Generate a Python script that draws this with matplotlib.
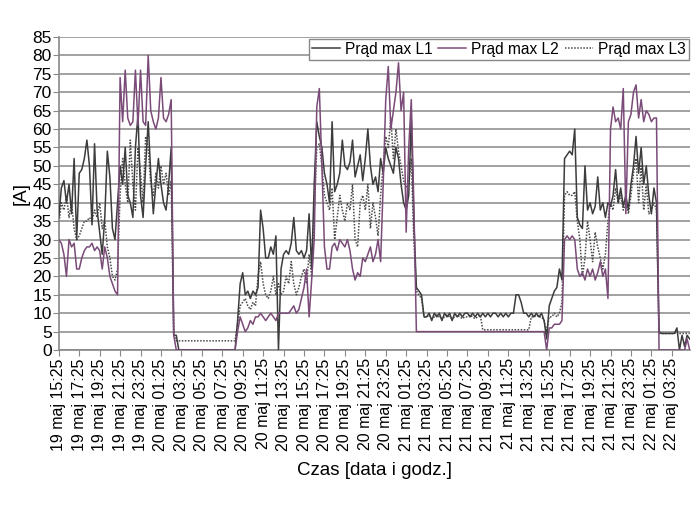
import numpy as np
import matplotlib
matplotlib.use("Agg")
import matplotlib.pyplot as plt

plt.rcParams['font.family'] = ['Liberation Sans', 'DejaVu Sans']

# max current per phase, read every 15 min from 19 maj 15:25
l1 = [
    36, 44, 46, 40, 45, 37, 52, 30,
    48, 49, 52, 57, 50, 34, 56, 38,
    32, 26, 36, 54, 47, 33, 30, 40,
    50, 45, 55, 42, 40, 36, 55, 64,
    42, 36, 50, 62, 48, 37, 45, 52,
    45, 40, 38, 45, 55, 4, 4, 0,
    0, 0, 0, 0, 0, 0, 0, 0,
    0, 0, 0, 0, 0, 0, 0, 0,
    0, 0, 0, 0, 0, 0, 8, 18,
    21, 15, 16, 14, 16, 15, 17, 38,
    33, 25, 25, 28, 26, 31, 0, 22,
    26, 27, 26, 29, 36, 27, 26, 27,
    25, 27, 37, 22, 45, 62, 58, 55,
    48, 45, 40, 62, 43, 45, 48, 57,
    50, 49, 51, 57, 47, 50, 53, 46,
    52, 60, 50, 45, 47, 43, 52, 48,
    55, 52, 50, 48, 55, 52, 45, 40,
    38, 42, 63, 35, 17, 16, 15, 9,
    9, 10, 8, 10, 9, 10, 8, 10,
    9, 10, 8, 10, 9, 10, 9, 10,
    10, 9, 10, 9, 10, 9, 10, 9,
    10, 9, 10, 10, 9, 10, 9, 10,
    9, 10, 10, 15, 15, 13, 10, 10,
    9, 10, 9, 10, 9, 10, 8, 3,
    12, 14, 16, 17, 22, 19, 52, 53,
    54, 53, 60, 36, 34, 33, 50, 38,
    40, 37, 39, 47, 38, 40, 36, 40,
    39, 42, 49, 40, 44, 39, 42, 38,
    45, 50, 58, 48, 55, 45, 50, 42,
    37, 44, 40, 5, 4.5, 4.5, 4.5, 4.5,
    4.5, 4.5, 6, 0, 4, 1, 4, 3,
]
l2 = [
    30, 29, 26, 20, 30, 28, 29, 22,
    22, 25, 27, 28, 28, 29, 27, 28,
    27, 22, 28, 25, 20, 18, 16, 15,
    74, 62, 76, 63, 61, 62, 76, 61,
    76, 62, 61, 80, 65, 62, 60, 63,
    74, 63, 62, 64, 68, 4, 0, 0,
    0, 0, 0, 0, 0, 0, 0, 0,
    0, 0, 0, 0, 0, 0, 0, 0,
    0, 0, 0, 0, 0, 0, 5, 9,
    7, 5, 6, 8, 7, 9, 9, 10,
    9, 8, 9, 10, 9, 8, 10, 10,
    10, 10, 10, 11, 12, 10, 11, 14,
    17, 22, 9, 19, 30, 66, 71, 50,
    28, 22, 22, 28, 29, 27, 30, 29,
    28, 30, 27, 22, 19, 21, 20, 25,
    24, 26, 28, 24, 26, 30, 24, 45,
    68, 77, 60, 65, 70, 78, 65, 70,
    32, 55, 68, 40, 5, 5, 5, 5,
    5, 5, 5, 5, 5, 5, 5, 5,
    5, 5, 5, 5, 5, 5, 5, 5,
    5, 5, 5, 5, 5, 5, 5, 5,
    5, 5, 5, 5, 5, 5, 5, 5,
    5, 5, 5, 5, 5, 5, 5, 5,
    5, 5, 5, 5, 5, 5, 5, 0,
    6, 6, 7, 7, 7, 8, 30, 31,
    30, 31, 30, 22, 20, 21, 19, 22,
    20, 22, 19, 21, 24, 20, 22, 14,
    60, 66, 62, 63, 60, 71, 37, 62,
    64, 70, 72, 63, 68, 62, 65, 64,
    62, 63, 63, 0, 0, 0, 0, 0,
    0, 0, 0, 0, 0, 0, 3, 0,
]
l3 = [
    34, 40, 38, 42, 36, 40, 33, 30,
    31, 33, 35, 35, 36, 35, 38, 36,
    40, 33, 35, 28, 25, 20, 19, 22,
    42, 52, 45, 40, 57, 45, 38, 55,
    48, 40, 58, 55, 45, 42, 48, 44,
    50, 45, 48, 42, 46, 4, 2.5, 2.5,
    2.5, 2.5, 2.5, 2.5, 2.5, 2.5, 2.5, 2.5,
    2.5, 2.5, 2.5, 2.5, 2.5, 2.5, 2.5, 2.5,
    2.5, 2.5, 2.5, 2.5, 2.5, 2.5, 7, 12,
    13, 14, 12, 11, 13, 12, 20, 24,
    18, 15, 14, 16, 20, 15, 18, 15,
    16, 20, 18, 24, 18, 15, 17, 20,
    22, 18, 26, 20, 38, 55, 56, 50,
    42, 40, 38, 44, 30, 36, 42, 38,
    35, 40, 38, 45, 30, 28, 40, 42,
    38, 45, 33, 40, 36, 31, 42, 50,
    58, 55, 63, 52, 60, 54, 50, 46,
    44, 45, 52, 30, 16, 15, 14, 9,
    9, 9.5, 8.5, 9, 9.5, 9, 8.5, 9,
    9.5, 9, 8.5, 9, 9.5, 9, 8.5, 9,
    9, 9.5, 9, 8.5, 9, 9.5, 5.5, 5.5,
    5.5, 5.5, 5.5, 5.5, 5.5, 5.5, 5.5, 5.5,
    5.5, 5.5, 5.5, 5.5, 5.5, 5.5, 5.5, 5.5,
    5.5, 9, 9, 9.5, 9, 9, 8, 5,
    9, 9, 10, 9, 10, 13, 42, 43,
    42, 42, 43, 35, 30, 20, 25, 35,
    30, 24, 32, 28, 25, 22, 26, 35,
    40, 38, 44, 40, 42, 38, 40, 37,
    42, 48, 52, 40, 50, 38, 45, 37,
    38, 40, 38, 4.5, 4.5, 4.5, 4.5, 4.5,
    4.5, 4.5, 5, 4.5, 4.5, 4.5, 4.5, 4.5,
]

tick_labels = [
    "19 maj 15:25", "19 maj 17:25", "19 maj 19:25", "19 maj 21:25",
    "19 maj 23:25", "20 maj 01:25", "20 maj 03:25", "20 maj 05:25",
    "20 maj 07:25", "20 maj 09:25", "20 maj 11:25", "20 maj 13:25",
    "20 maj 15:25", "20 maj 17:25", "20 maj 19:25", "20 maj 21:25",
    "20 maj 23:25", "21 maj 01:25", "21 maj 03:25", "21 maj 05:25",
    "21 maj 07:25", "21 maj 09:25", "21 maj 11:25", "21 maj 13:25",
    "21 maj 15:25", "21 maj 17:25", "21 maj 19:25", "21 maj 21:25",
    "21 maj 23:25", "22 maj 01:25", "22 maj 03:25",
]

hours = np.arange(len(l1)) * 0.25
tick_pos = np.arange(len(tick_labels)) * 2

fig = plt.figure(figsize=(7, 5.14), dpi=100)
ax = fig.add_axes([0.084, 0.319, 0.902, 0.609])

ax.plot(hours, l1, color="#3c3c3c", lw=1.1, label="Prąd max L1", zorder=3)
ax.plot(hours, l2, color="#7a4b78", lw=1.1, label="Prąd max L2", zorder=4)
ax.plot(hours, l3, color="#4a4a4a", lw=1.1, ls=(0, (1, 1)), label="Prąd max L3", zorder=2)

ax.set_xlim(0, 61.8)
ax.set_ylim(0, 85)
ax.set_yticks(range(0, 86, 5))
ax.set_xticks(tick_pos)
ax.set_xticklabels(tick_labels, rotation=90, fontsize=11.5)
ax.tick_params(axis="y", labelsize=12.5, length=4, color="#888888", pad=1)
ax.tick_params(axis="x", length=4, color="#888888", pad=2)

ax.grid(axis="y", color="#9a9a9a", lw=1.3)
ax.set_axisbelow(True)
for s in ["top", "right"]:
    ax.spines[s].set_visible(False)
for s in ["left", "bottom"]:
    ax.spines[s].set_color("#888888")
    ax.spines[s].set_linewidth(1.2)

ax.set_ylabel("[A]", fontsize=13.5, labelpad=2)
ax.set_xlabel("Czas [data i godz.]", fontsize=13.5, labelpad=8)

leg = ax.legend(loc="upper right", bbox_to_anchor=(1.0, 1.0), ncol=3,
                fontsize=11.2, frameon=True, fancybox=False, framealpha=1,
                edgecolor="#888888", borderaxespad=0.1, handlelength=1.8,
                handletextpad=0.3, columnspacing=0.4, borderpad=0.2)
leg.get_frame().set_linewidth(1.0)

fig.savefig("out.png", dpi=100)
